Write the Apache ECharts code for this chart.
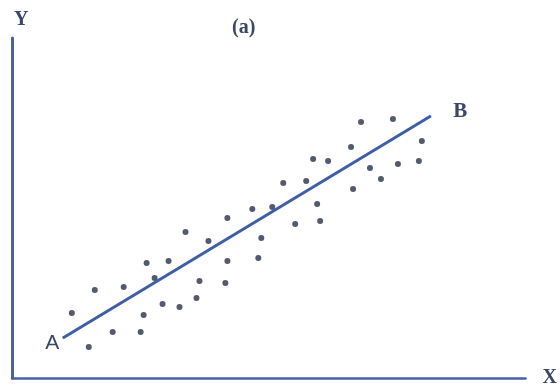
<!DOCTYPE html>
<html>
<head>
<meta charset="utf-8">
<script src="https://cdn.jsdelivr.net/npm/echarts@6/dist/echarts.min.js"></script>
<style>html,body{margin:0;padding:0;background:#fff;}#c{width:560px;height:392px;}</style>
</head>
<body>
<div id="c"></div>
<script>
// scatter observations (x, y) in chart units
const pointsX = [12.0,16.6,15.4,20.2,22.4,25.8,26.4,27.0,31.4,28.6,30.2,33.6,37.0,37.6,42.8,43.2,34.8,39.4,43.2,48.2,50.0,49.4,52.2,54.4,59.0,60.4,63.4,68.0,68.4,61.2,56.8,61.8,70.0,76.4,82.2,81.6,77.4,71.8,74.0];
const pointsY = [13.0,17.6,6.2,9.2,18.2,9.2,12.6,23.0,23.4,20.0,14.8,14.2,16.0,19.4,19.0,23.4,29.2,27.4,32.0,33.8,28.0,24.0,34.2,39.0,39.4,43.8,43.4,46.2,37.8,34.8,30.8,31.4,51.2,51.8,47.4,43.4,42.8,42.0,39.8];
// regression line endpoints A and B
const lineLabels = ['A','B'];
const lineX = [10.2, 84.0];
const lineY = [8.0, 52.4];

const scatterData = pointsX.map((x,i)=>[x, pointsY[i]]);
const lineData = lineX.map((x,i)=>({
  value:[x, lineY[i]],
  label:{show:true, formatter:lineLabels[i], position: i===0?'left':'right',
    distance: i===0?3:22, offset: i===0?[0,5]:[0,-4],
    color:'#3b4766', fontSize:21,
    fontFamily: i===0?'Liberation Sans':'Liberation Serif', fontWeight: i===0?'normal':'bold'}
}));

const chart = echarts.init(document.getElementById('c'), null, {renderer:'canvas'});
chart.setOption({
  backgroundColor:'#fff',
  animation:false,
  title:{text:'(a)', left:227, top:13, textStyle:{fontFamily:'Liberation Serif', fontWeight:'bold', fontSize:20, color:'#3b4766'}},
  grid:{left:12, top:38, width:515, height:340},
  xAxis:{type:'value', min:0, max:103,
    name:'X', nameLocation:'end', nameGap:17,
    nameTextStyle:{fontFamily:'Liberation Serif', fontWeight:'bold', fontSize:20, color:'#3b4766', verticalAlign:'middle'},
    axisLine:{show:true, lineStyle:{color:'#4862a6', width:2.5}},
    axisTick:{show:false}, axisLabel:{show:false}, splitLine:{show:false}},
  yAxis:{type:'value', min:0, max:68,
    name:'Y', nameLocation:'end', nameGap:8,
    nameTextStyle:{fontFamily:'Liberation Serif', fontWeight:'bold', fontSize:20, color:'#3b4766', align:'left', padding:[0,0,0,2]},
    axisLine:{show:true, lineStyle:{color:'#4862a6', width:3}},
    axisTick:{show:false}, axisLabel:{show:false}, splitLine:{show:false}},
  series:[
    {type:'scatter', data:scatterData, symbol:'circle', symbolSize:6,
      itemStyle:{color:'#27314c'}},
    {type:'line', data:lineData, symbol:'circle', symbolSize:1, showSymbol:true,
      itemStyle:{color:'#3e5ea6'},
      lineStyle:{color:'#3e5ea6', width:3}}
  ]
});
</script>
</body>
</html>
